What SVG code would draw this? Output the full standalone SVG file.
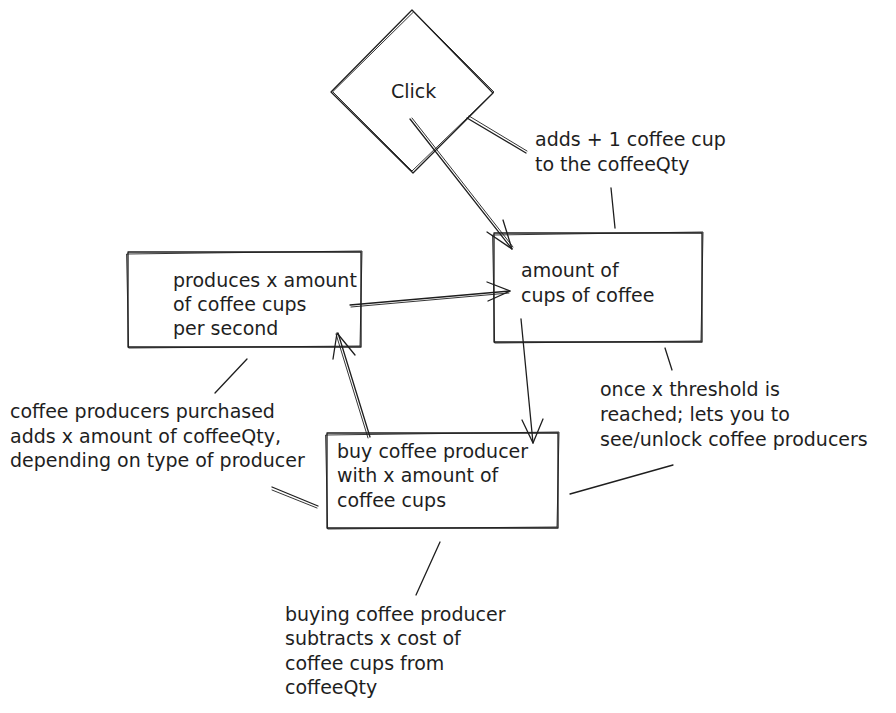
<svg xmlns="http://www.w3.org/2000/svg" width="896" height="713" viewBox="0 0 896 713">
<style>
.s{fill:none;stroke:#1e1e1e;stroke-width:1.3;stroke-linecap:round;stroke-linejoin:round}
.s2{fill:none;stroke:#1e1e1e;stroke-width:0.9;stroke-linecap:round;stroke-linejoin:round}
.t{font-family:"DejaVu Sans","Liberation Sans",sans-serif;font-size:19px;fill:#1e1e1e}
</style>
<rect width="896" height="713" fill="#ffffff"/>
<g id="click">
<path class="s" d="M412 10 L493 93 L413 173 L331 92 Z"/>
<path class="s2" d="M414 12 L494 92 L412 171 L333 92 Z"/>
<text class="t" x="391" y="98">Click</text>
</g>
<g id="produces">
<path class="s" d="M128 252 L361 252 L361 347 L128 347 Z"/>
<path class="s2" d="M127 254 L362 251 L360 346 L129 348 Z"/>
<text class="t" x="173" y="287">produces x amount</text>
<text class="t" x="173" y="311">of coffee cups</text>
<text class="t" x="173" y="335">per second</text>
</g>
<g id="amount">
<path class="s" d="M494 233 L702 233 L702 342 L494 342 Z"/>
<path class="s2" d="M493 235 L703 232 L701 341 L495 343 Z"/>
<text class="t" x="521" y="277">amount of</text>
<text class="t" x="521" y="302">cups of coffee</text>
</g>
<g id="buy">
<path class="s" d="M327 433 L558 433 L558 528 L327 528 Z"/>
<path class="s2" d="M326 435 L559 432 L557 527 L328 529 Z"/>
<text class="t" x="337" y="458">buy coffee producer</text>
<text class="t" x="337" y="482">with x amount of</text>
<text class="t" x="337" y="507">coffee cups</text>
</g>
<g id="label-adds">
<text class="t" x="535" y="146">adds + 1 coffee cup</text>
<text class="t" x="535" y="171">to the coffeeQty</text>
</g>
<g id="label-threshold">
<text class="t" x="600" y="396">once x threshold is</text>
<text class="t" x="600" y="421">reached; lets you to</text>
<text class="t" x="600" y="446">see/unlock coffee producers</text>
</g>
<g id="label-purchased">
<text class="t" x="10" y="418">coffee producers purchased</text>
<text class="t" x="10" y="443">adds x amount of coffeeQty,</text>
<text class="t" x="10" y="467">depending on type of producer</text>
</g>
<g id="label-buying">
<text class="t" x="285" y="621">buying coffee producer</text>
<text class="t" x="285" y="645">subtracts x cost of</text>
<text class="t" x="285" y="670">coffee cups from</text>
<text class="t" x="285" y="694">coffeeQty</text>
</g>
<g id="connectors">
<path class="s" d="M410 119 L512 249"/>
<path class="s2" d="M412 118 L513 247"/>
<path class="s" d="M487 232 L512 249 M503 220 L512 249"/>
<path class="s" d="M350 305 L510 291"/>
<path class="s2" d="M351 307 L509 293"/>
<path class="s" d="M487 282 L510 291 L488 301"/>
<path class="s" d="M521 319 L533 443"/>
<path class="s" d="M522 420 L533 443 L543 419"/>
<path class="s" d="M370 437 L338 333"/>
<path class="s2" d="M368 438 L336 334"/>
<path class="s" d="M333 359 L337 333 L355 355"/>
<path class="s" d="M467 118 L526 153"/>
<path class="s2" d="M469 116 L527 151"/>
<path class="s" d="M611 188 L615 228"/>
<path class="s" d="M665 348 L672 370"/>
<path class="s" d="M570 494 L673 465"/>
<path class="s" d="M440 542 L416 595"/>
<path class="s" d="M247 359 L215 393"/>
<path class="s" d="M272 487 L318 506"/>
<path class="s2" d="M272 490 L317 508"/>
</g>
</svg>
